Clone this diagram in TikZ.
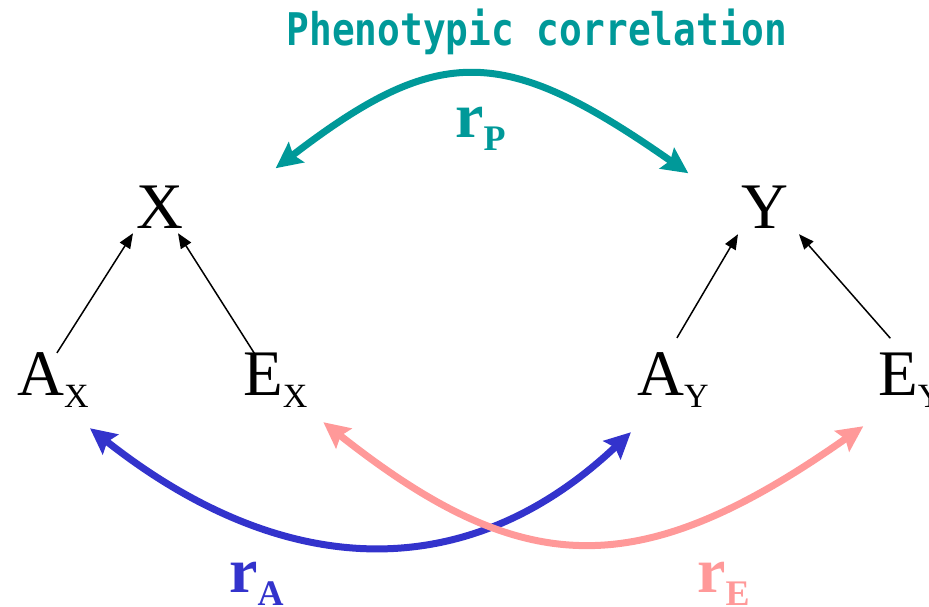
\documentclass[tikz,border=0pt]{standalone}
\usepackage{fontspec}
\setmainfont{Liberation Serif}
\newfontfamily\titlefont{DejaVu Sans Mono}[FakeStretch=0.84]
\usetikzlibrary{arrows.meta}
\definecolor{phenoteal}{RGB}{0,153,153}
\definecolor{genblue}{RGB}{51,51,204}
\definecolor{envpink}{RGB}{255,153,153}
\newcommand{\lowsub}[1]{\raisebox{-12pt}{\fontsize{34}{34}\selectfont #1}}
\newcommand{\rlab}[1]{{\bfseries\fontsize{64}{64}\selectfont r\raisebox{-13pt}{\fontsize{36}{36}\selectfont #1}}}

\begin{document}
\begin{tikzpicture}[x=1pt, y=-1pt,
    every node/.style={inner sep=0pt},
    letter/.style={font=\fontsize{65}{65}\selectfont},
    path arrow/.style={-{Triangle[length=15pt,width=12pt]}, line width=1.5pt},
    corr/.style={{Stealth[length=26pt,width=25pt,inset=4pt]}-{Stealth[length=26pt,width=25pt,inset=4pt]}, line width=7pt}]
    \useasboundingbox (0,0) rectangle (929,606);
    % trait nodes and their sources
    \node[letter, anchor=base] (X) at (160,228) {X};
    \node[letter, anchor=base] (Y) at (765,228) {Y};
    \node[letter, anchor=base west] (AX) at (17,395) {A\lowsub{X}};
    \node[letter, anchor=base west] (EX) at (243,395) {E\lowsub{X}};
    \node[letter, anchor=base west] (AY) at (637,395) {A\lowsub{Y}};
    \node[letter, anchor=base west] (EY) at (878,395) {E\lowsub{Y}};
    % labels
    \node[font=\titlefont\bfseries\fontsize{45}{45}\selectfont, text=phenoteal, anchor=base] (title) at (537,45) {Phenotypic correlation};
    \node[text=phenoteal, anchor=base west] (rP) at (455,137) {\rlab{P}};
    \node[text=genblue, anchor=base west] (rA) at (229,592) {\rlab{A}};
    \node[text=envpink, anchor=base west] (rE) at (697,592) {\rlab{E}};
    % paths into X and Y
    \draw[path arrow] ([shift={(4,1)}]AX.north) -- ([shift={(-27,5)}]X.south);
    \draw[path arrow] ([shift={(-21,1)}]EX.north) -- ([shift={(18,5)}]X.south);
    \draw[path arrow] ([shift={(4,-14)}]AY.north) -- ([shift={(-27,6)}]Y.south);
    \draw[path arrow] ([shift={(-20,-14)}]EY.north) -- ([shift={(34,6)}]Y.south);
    % correlations
    \draw[corr, phenoteal] ([shift={(92,-17)}]X.north east) .. controls (440,42) and (505,45) .. ([shift={(-53,-12)}]Y.north west);
    \draw[corr, genblue] ([shift={(37,21)}]AX.south) .. controls (285,582) and (468,586) .. ([shift={(-42,25)}]AY.south);
    \draw[corr, envpink] ([shift={(48,15)}]EX.south) .. controls (523,580) and (639,584) .. ([shift={(-47,19)}]EY.south);
\end{tikzpicture}
\end{document}
